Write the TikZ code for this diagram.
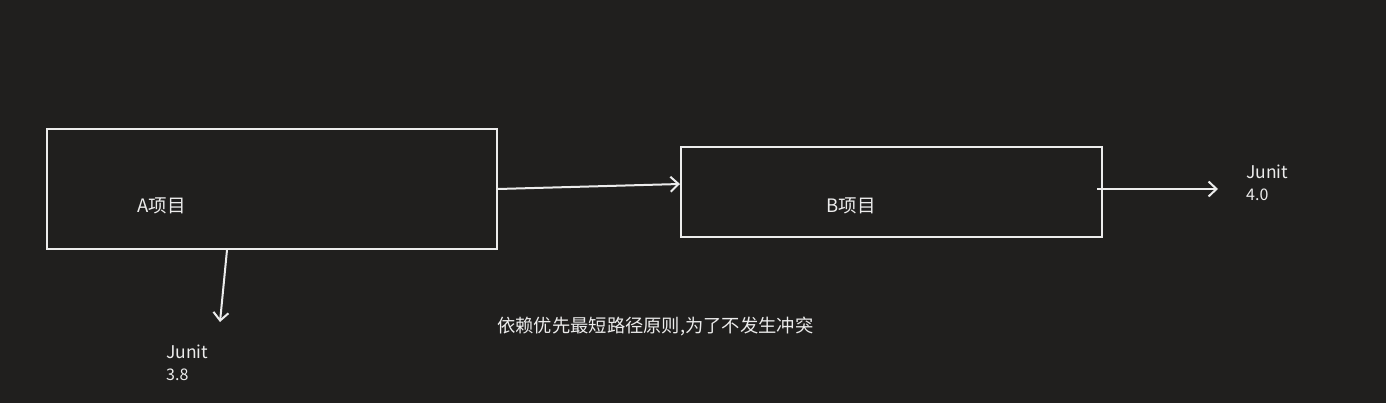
\documentclass[tikz,border=0pt]{standalone}
\usepackage{fontspec}
\setmainfont{Noto Sans CJK SC}
\usetikzlibrary{arrows.meta}
\definecolor{bgc}{RGB}{32,31,30}
\definecolor{fgc}{RGB}{236,236,236}
\tikzset{
  boxnode/.style={draw=fgc, line width=2pt, inner sep=0pt, outer sep=0pt},
  lbl/.style={text=fgc, inner sep=0pt, font=\fontsize{18.5}{20}\selectfont},
  junit/.style={text=fgc, inner sep=0pt, font=\fontsize{17.5}{20}\selectfont},
  verlbl/.style={text=fgc, inner sep=0pt, font=\fontsize{16}{18}\selectfont},
  notelbl/.style={text=fgc, inner sep=0pt, font=\fontsize{18.3}{20}\selectfont},
  arr/.style={draw=fgc, line width=2pt, -{Straight Barb[length=8pt,width=15pt,line width=2pt]}}
}
\begin{document}
\begin{tikzpicture}[x=1pt,y=-1pt]
\fill[bgc] (0,0) rectangle (1386,403);
\useasboundingbox (0,0) rectangle (1386,403);
\node[boxnode, minimum width=450pt, minimum height=120pt] (A) at (272,189) {};
\node[boxnode, minimum width=421pt, minimum height=90pt] (B) at (891.5,192) {};
\node[lbl] (Alab) at (161.5,206) {A项目};
\node[lbl] (Blab) at (851,206) {B项目};
\node[junit, anchor=west] (j4) at (1246,172) {Junit};
\node[verlbl, anchor=west] (v4) at (1246,195) {4.0};
\node[junit, anchor=west] (j3) at (166,352) {Junit};
\node[verlbl, anchor=west] (v3) at (166,375) {3.8};
\node[notelbl, anchor=west] (note) at (497,326) {依赖优先最短路径原则,为了不发生冲突};
\coordinate (a1) at (498,189);
\coordinate (b1) at (680,184);
\coordinate (b2) at (1097,189);
\coordinate (c2) at (1218,189);
\coordinate (a2) at (227,250);
\coordinate (c3) at (220,322);
\draw[arr] (a1) -- (b1);
\draw[arr] (b2) -- (c2);
\draw[arr] (a2) -- (c3);
\end{tikzpicture}
\end{document}
